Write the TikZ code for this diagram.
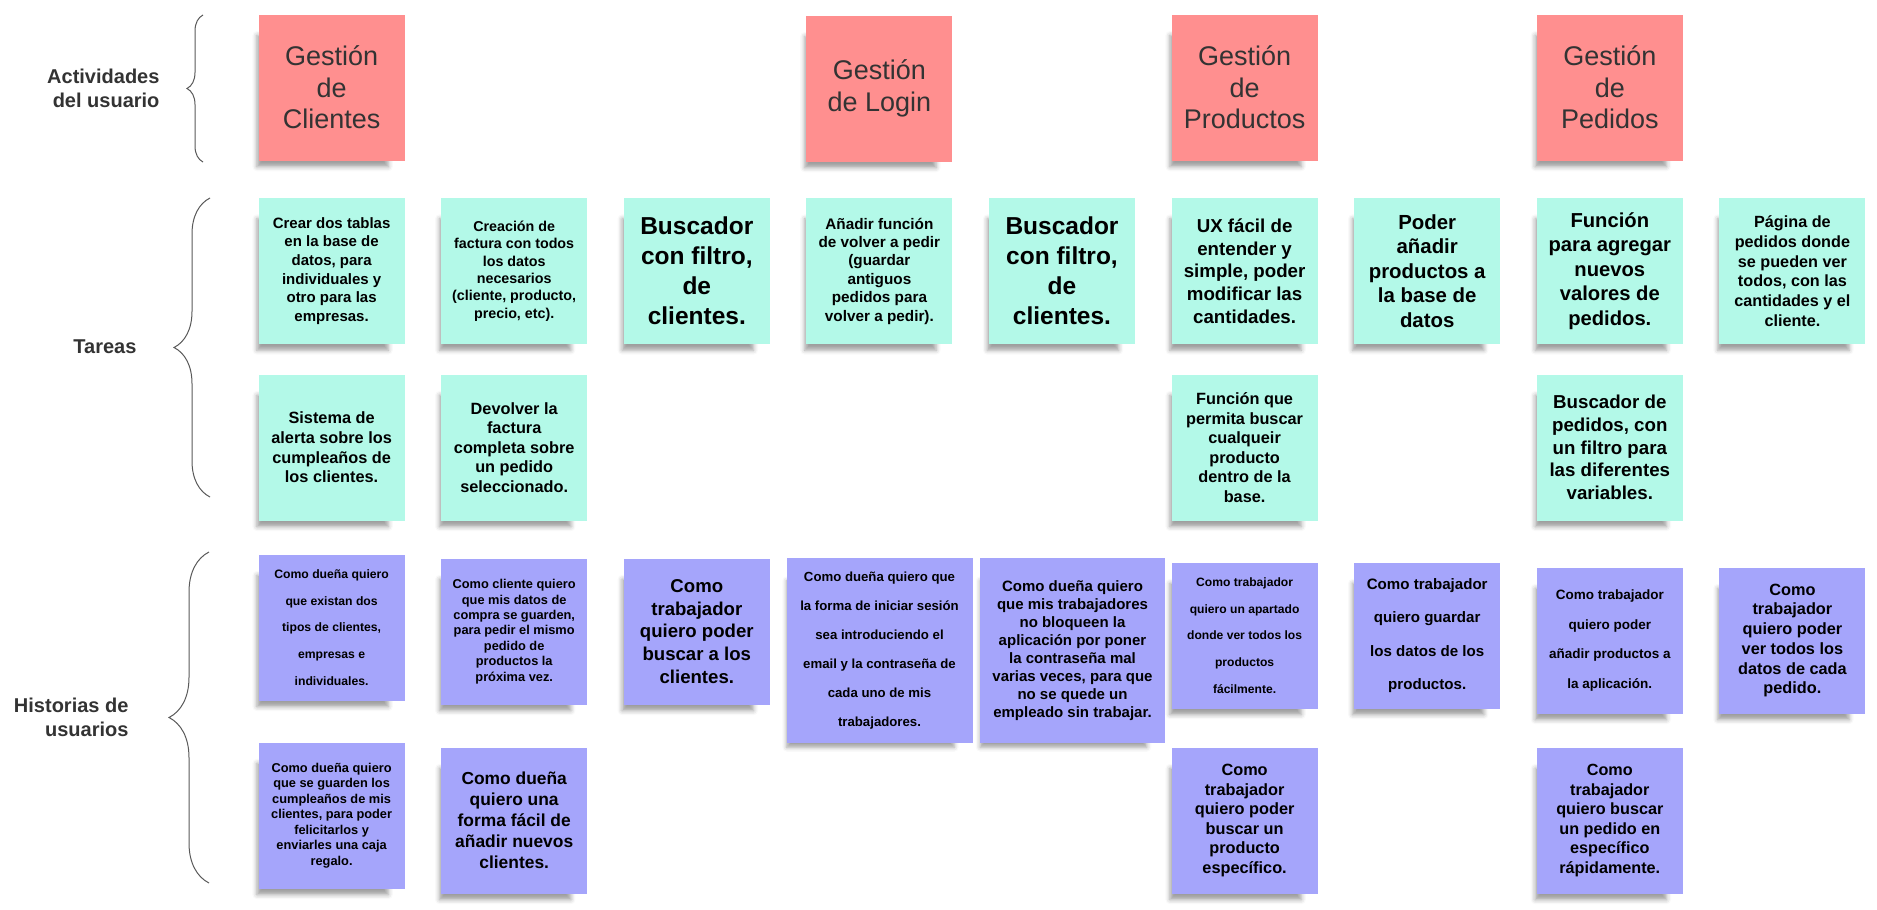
\documentclass[tikz,border=0pt]{standalone}
\usepackage{fontspec}
\setmainfont{Liberation Sans}
\usetikzlibrary{shadows.blur,decorations.pathreplacing}
\definecolor{actred}{HTML}{FF8F8F}
\definecolor{taskcyan}{HTML}{B3F9E8}
\definecolor{storyblue}{HTML}{A5A5FB}
\definecolor{txtgray}{HTML}{333333}
\newcommand{\fb}[2]{\bfseries\fontsize{#1}{#2}\selectfont}

\begin{document}
\begin{tikzpicture}[x=1pt, y=-1pt,
    note/.style={minimum width=146pt, minimum height=146pt, inner sep=0pt, align=center,
                 blur shadow={shadow xshift=-10pt, shadow yshift=-15pt, shadow scale=0.9,
                              shadow blur radius=5pt, shadow opacity=38}},
    act/.style={note, fill=actred, text=txtgray, font=\fontsize{27}{31.5}\selectfont},
    task/.style={note, fill=taskcyan},
    story/.style={note, fill=storyblue},
    lbl/.style={anchor=east, align=right, text=txtgray, font=\fb{20}{24}},
    brc/.style={decorate, decoration={brace, amplitude=#1}, draw=black!65, line width=1pt}
]
\useasboundingbox (0,0) rectangle (1877,910);

% left labels and braces
\node[lbl] (lact) at (163,88) {Actividades\\del usuario};
\node[lbl] (ltar) at (140,347) {Tareas};
\node[lbl] (lhis) at (132,717) {Historias de\\usuarios};
\draw[brc=16pt] (203,162) -- (203,15);
\draw[brc=36pt] (210,497) -- (210,198);
\draw[brc=40pt] (209,883) -- (209,552);

% actividades
\node[act] (gcli) at (331.6,87.6) {Gestión\\de\\Clientes};
\node[act] (glog) at (879.4,88.6) {Gestión\\de Login};
\node[act] (gpro) at (1244.6,87.6) {Gestión\\de\\Productos};
\node[act] (gped) at (1609.8,87.6) {Gestión\\de\\Pedidos};

% tareas
\node[task, font=\fb{15}{18.7}] (ttab) at (331.6,271) {Crear dos tablas\\en la base de\\datos, para\\individuales y\\otro para las\\empresas.};
\node[task, font=\fb{14.3}{17.3}] (tfac) at (514.2,271) {Creación de\\factura con todos\\los datos\\necesarios\\(cliente, producto,\\precio, etc).};
\node[task, font=\fb{24.5}{30}] (tbcl) at (696.8,271) {Buscador\\con filtro,\\de\\clientes.};
\node[task, font=\fb{15.3}{18.4}] (tvol) at (879.4,271) {Añadir función\\de volver a pedir\\(guardar\\antiguos\\pedidos para\\volver a pedir).};
\node[task, font=\fb{24.5}{30}] (tbcl2) at (1062,271) {Buscador\\con filtro,\\de\\clientes.};
\node[task, font=\fb{18.7}{22.7}] (tux) at (1244.6,271) {UX fácil de\\entender y\\simple, poder\\modificar las\\cantidades.};
\node[task, font=\fb{20.4}{24.5}] (tapr) at (1427.2,271) {Poder\\añadir\\productos a\\la base de\\datos};
\node[task, font=\fb{20.2}{24.5}] (tape) at (1609.8,271) {Función\\para agregar\\nuevos\\valores de\\pedidos.};
\node[task, font=\fb{16.2}{19.7}] (tpag) at (1792.4,271) {Página de\\pedidos donde\\se pueden ver\\todos, con las\\cantidades y el\\cliente.};

\node[task, font=\fb{16.3}{19.6}] (tale) at (331.6,447.5) {Sistema de\\alerta sobre los\\cumpleaños de\\los clientes.};
\node[task, font=\fb{16.3}{19.6}] (tdev) at (514.2,447.5) {Devolver la\\factura\\completa sobre\\un pedido\\seleccionado.};
\node[task, font=\fb{16.3}{19.6}] (tbpr) at (1244.6,447.5) {Función que\\permita buscar\\cualqueir\\producto\\dentro de la\\base.};
\node[task, font=\fb{18.7}{22.8}] (tbpe) at (1609.8,447.5) {Buscador de\\pedidos, con\\un filtro para\\las diferentes\\variables.};

% historias de usuarios
\node[story, font=\fb{12.2}{26.8}] (htip) at (331.6,627.5) {Como dueña quiero\\que existan dos\\tipos de clientes,\\empresas e\\individuales.};
\node[story, font=\fb{12.8}{15.4}] (hcom) at (514.2,631.5) {Como cliente quiero\\que mis datos de\\compra se guarden,\\para pedir el mismo\\pedido de\\productos la\\próxima vez.};
\node[story, font=\fb{18.6}{22.6}] (hbcl) at (696.8,631.5) {Como\\trabajador\\quiero poder\\buscar a los\\clientes.};
\node[story, minimum width=186pt, minimum height=185pt, font=\fb{13.2}{29}] (hlog) at (879.5,650.5) {Como dueña quiero que\\la forma de iniciar sesión\\sea introduciendo el\\email y la contraseña de\\cada uno de mis\\trabajadores.};
\node[story, minimum width=185pt, minimum height=185pt, font=\fb{15}{18.1}] (hblo) at (1072.5,650.5) {Como dueña quiero\\que mis trabajadores\\no bloqueen la\\aplicación por poner\\la contraseña mal\\varias veces, para que\\no se quede un\\empleado sin trabajar.};
\node[story, font=\fb{12.1}{26.8}] (hapa) at (1244.6,635.5) {Como trabajador\\quiero un apartado\\donde ver todos los\\productos\\fácilmente.};
\node[story, font=\fb{15.1}{33.6}] (hgua) at (1427.2,635.5) {Como trabajador\\quiero guardar\\los datos de los\\productos.};
\node[story, font=\fb{13.5}{29.8}] (hapr) at (1609.8,640.5) {Como trabajador\\quiero poder\\añadir productos a\\la aplicación.};
\node[story, font=\fb{16.3}{19.7}] (hver) at (1792.4,640.5) {Como\\trabajador\\quiero poder\\ver todos los\\datos de cada\\pedido.};

\node[story, font=\fb{12.8}{15.5}] (hcum) at (331.6,815.5) {Como dueña quiero\\que se guarden los\\cumpleaños de mis\\clientes, para poder\\felicitarlos y\\enviarles una caja\\regalo.};
\node[story, font=\fb{17.4}{20.9}] (hnue) at (514.2,820.5) {Como dueña\\quiero una\\forma fácil de\\añadir nuevos\\clientes.};
\node[story, font=\fb{16.3}{19.6}] (hbpr) at (1244.6,820.5) {Como\\trabajador\\quiero poder\\buscar un\\producto\\específico.};
\node[story, font=\fb{16.2}{19.6}] (hbpe) at (1609.8,820.5) {Como\\trabajador\\quiero buscar\\un pedido en\\específico\\rápidamente.};
\end{tikzpicture}
\end{document}
